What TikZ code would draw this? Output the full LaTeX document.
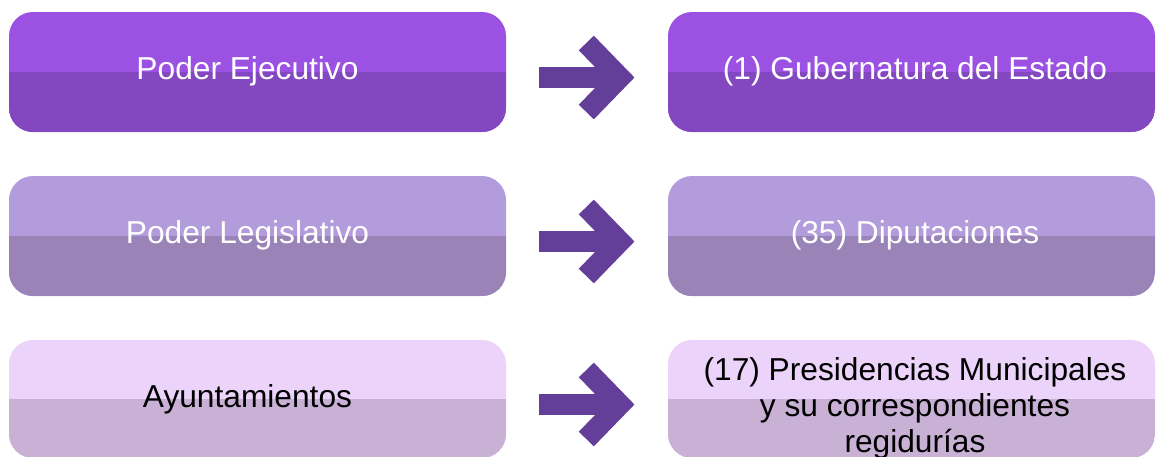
\documentclass[tikz,border=0pt]{standalone}
\usepackage{fontspec}
\setmainfont{Liberation Sans}
\usetikzlibrary{calc}
\definecolor{moradoA}{HTML}{9B52E3}
\definecolor{moradoB}{HTML}{8347C0}
\definecolor{lilaA}{HTML}{B39CDB}
\definecolor{lilaB}{HTML}{9983B7}
\definecolor{rosaA}{HTML}{EBD3FA}
\definecolor{rosaB}{HTML}{C8B1D5}
\definecolor{flecha}{HTML}{643F9A}
\tikzset{
  caja/.style 2 args={rectangle, rounded corners=24pt, inner sep=0pt,
    minimum height=120pt, fill=#1,
    path picture={\fill[#2, sharp corners] (path picture bounding box.west) rectangle (path picture bounding box.south east);}},
  izq/.style={minimum width=497pt},
  der/.style={minimum width=487pt},
  texto/.style={inner sep=0pt, font=\fontsize{31.7}{36}\selectfont},
  cuerpo/.style={draw=flecha, line width=21pt},
  punta/.style={draw=flecha, line width=21pt, miter limit=10}
}
\begin{document}
\begin{tikzpicture}[x=1pt,y=-1pt]
\useasboundingbox (0,0) rectangle (1156,456);
% cajas
\node[caja={moradoA}{moradoB}, izq] (pe) at (257.5,72) {};
\node[caja={lilaA}{lilaB}, izq] (pl) at (257.5,236) {};
\node[caja={rosaA}{rosaB}, izq, minimum height=118pt] (ay) at (257.5,399) {};
\node[caja={moradoA}{moradoB}, der] (ge) at (911.5,72) {};
\node[caja={lilaA}{lilaB}, der] (di) at (911.5,236) {};
\node[caja={rosaA}{rosaB}, der, minimum height=118pt] (pm) at (911.5,399) {};
% textos
\node[texto, text=white, anchor=base] (tpe) at ($(pe)+(-10,7.5)$) {Poder Ejecutivo};
\node[texto, text=white, anchor=base] (tpl) at ($(pl)+(-10,7.5)$) {Poder Legislativo};
\node[texto, anchor=base] (tay) at ($(ay)+(-10,8.5)$) {Ayuntamientos};
\node[texto, text=white, anchor=base] (tge) at ($(ge)+(3.5,7.5)$) {(1) Gubernatura del Estado};
\node[texto, text=white, anchor=base] (tdi) at ($(di)+(3.5,7.5)$) {(35) Diputaciones};
\node[texto, align=center] (tpm) at (915,408) {(17) Presidencias Municipales\\y su correspondientes\\regidurías};
% flechas
\foreach \a/\b in {pe/ge, pl/di, ay/pm}{
  \draw[cuerpo] ($(\a.east)+(33,5.5)$) -- ($(\b.west)+(-53,5.5)$);
  \draw[punta] ($(\b.west)+(-81.5,-29)$) -- ($(\b.west)+(-48,5.5)$) -- ($(\b.west)+(-81.5,40)$);
}
\end{tikzpicture}
\end{document}
